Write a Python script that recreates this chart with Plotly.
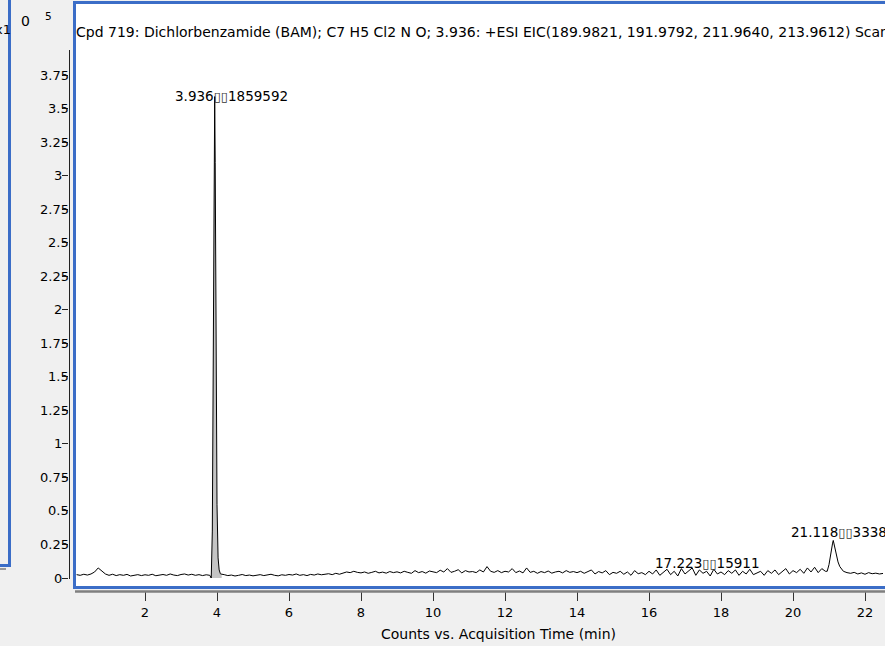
import numpy as np
import plotly.graph_objects as go

W, H = 885, 646

# ---------------- data (intensity in units of 10^5 counts) ----------------
seg_a_start = 0.1
noise_a = [0.025, 0.02, 0.028, 0.022, 0.03, 0.045, 0.075, 0.05, 0.03, 0.02,
           0.028, 0.018, 0.025, 0.02, 0.027, 0.015, 0.022, 0.025, 0.018, 0.024,
           0.02, 0.028, 0.017, 0.022, 0.026, 0.02, 0.03, 0.022, 0.018, 0.026,
           0.03, 0.022, 0.028, 0.02, 0.025, 0.018, 0.024, 0.02]
peak1_t = [3.84, 3.87, 3.90, 3.92, 3.936, 3.95, 3.97, 4.00, 4.03, 4.06, 4.09]
peak1_v = [0.0, 0.35, 1.9, 3.2, 3.59, 3.1, 1.6, 0.55, 0.15, 0.06, 0.035]
seg_b_start = 4.1
noise_b = [0.03, 0.025, 0.018, 0.022, 0.015, 0.02, 0.026, 0.018, 0.022, 0.016,
           0.02, 0.025, 0.018, 0.022, 0.028, 0.02, 0.016, 0.024, 0.02, 0.026,
           0.022, 0.03, 0.02, 0.025, 0.018, 0.027, 0.022, 0.03, 0.024, 0.028,
           0.032, 0.025, 0.035, 0.028, 0.038, 0.045, 0.04, 0.05, 0.042, 0.038,
           0.045, 0.035, 0.042, 0.05, 0.038, 0.044, 0.036, 0.048, 0.04, 0.046,
           0.038, 0.05, 0.042, 0.035, 0.055, 0.04, 0.048, 0.036, 0.052, 0.044,
           0.04, 0.058, 0.045, 0.07, 0.042, 0.05, 0.062, 0.038, 0.055, 0.045,
           0.048, 0.04, 0.06, 0.045, 0.085, 0.05, 0.042, 0.055, 0.04, 0.05,
           0.045, 0.07, 0.04, 0.052, 0.038, 0.075, 0.042, 0.05, 0.035, 0.048,
           0.04, 0.052, 0.036, 0.045, 0.05, 0.038, 0.055, 0.042, 0.048, 0.04,
           0.05, 0.035, 0.045, 0.06, 0.03, 0.048, 0.038, 0.055, 0.025, 0.042,
           0.035, 0.05, 0.028, 0.045, 0.02, 0.055, 0.032, 0.04, 0.025, 0.05,
           0.03, 0.06, 0.02, 0.045, 0.065, 0.025, 0.05, 0.015, 0.07, 0.03,
           0.055, 0.075, 0.02, 0.06, 0.035, 0.05, 0.015, 0.065, 0.03, 0.045,
           0.025, 0.055, 0.035, 0.06, 0.02, 0.05, 0.03, 0.065, 0.025, 0.04,
           0.05, 0.02, 0.055, 0.035, 0.06, 0.025, 0.045, 0.07, 0.03, 0.055,
           0.04, 0.065, 0.035, 0.075, 0.045, 0.08, 0.04, 0.07, 0.05]
peak2_t = [20.95, 21.0, 21.05, 21.1, 21.118, 21.15, 21.2, 21.25, 21.3, 21.35, 21.4, 21.5]
peak2_v = [0.05, 0.1, 0.2, 0.26, 0.28, 0.24, 0.17, 0.12, 0.085, 0.065, 0.05, 0.04]
seg_c_start = 21.6
noise_c = [0.035, 0.042, 0.03, 0.038, 0.028, 0.04, 0.032, 0.036, 0.03, 0.034]
scan_step = 0.1

y_ticks = [0, 0.25, 0.5, 0.75, 1, 1.25, 1.5, 1.75, 2, 2.25, 2.5, 2.75, 3, 3.25, 3.5, 3.75]
y_tick_labels = ["0", "0.25", "0.5", "0.75", "1", "1.25", "1.5", "1.75", "2",
                 "2.25", "2.5", "2.75", "3", "3.25", "3.5", "3.75"]
x_ticks = [2, 4, 6, 8, 10, 12, 14, 16, 18, 20, 22]
x_tick_labels = ["2", "4", "6", "8", "10", "12", "14", "16", "18", "20", "22"]

chart_title = ("Cpd 719: Dichlorbenzamide (BAM); C7 H5 Cl2 N O; 3.936: +ESI EIC(189.9821, "
               "191.9792, 211.9640, 213.9612) Scan Frag=110.0V Dichlorbenzamide.d")
x_title = "Counts vs. Acquisition Time (min)"
TOFU = "<span style='font-size:13px;color:#333'>\u25AF\u25AF</span>"
peak_labels = ["3.936" + TOFU + "1859592", "17.223" + TOFU + "15911", "21.118" + TOFU + "3338"]

# ---------------- assemble trace ----------------
def grid(start, n):
    return list(np.round(start + scan_step * np.arange(n), 3))

t_all = grid(seg_a_start, len(noise_a)) + peak1_t + grid(seg_b_start, len(noise_b)) + \
        peak2_t + grid(seg_c_start, len(noise_c))
v_all = noise_a + peak1_v + noise_b + peak2_v + noise_c

def px(x):
    return x / W

def py(y):
    return 1 - y / H

FONT = "DejaVu Sans, Liberation Sans, Arial, sans-serif"
BLUE = "#3b6dc7"

fig = go.Figure()
fig.add_trace(go.Scatter(x=[peak1_t[0] - 0.04] + peak1_t + [peak1_t[-1] + 0.04],
                         y=[0.02] + peak1_v + [0.02],
                         fill="tozeroy", fillcolor="#c4c4c4", mode="none",
                         hoverinfo="skip", showlegend=False))
fig.add_trace(go.Scatter(x=t_all, y=v_all, mode="lines",
                         line=dict(color="black", width=1), showlegend=False))

x0_px = 73.0      # pixel of t = 0
px_per_min = 36.0
y0_px = 578.0     # pixel of 0 counts
px_per_unit = 134.1

dom_l, dom_r = 69.0, 885.0
dom_t, dom_b = 50.0, 591.0

fig.update_layout(
    width=W, height=H,
    margin=dict(l=0, r=0, t=0, b=0),
    paper_bgcolor="#f0f0f0",
    plot_bgcolor="rgba(0,0,0,0)",
    font=dict(family=FONT, size=13, color="black"),
    showlegend=False,
    xaxis=dict(domain=[px(dom_l), px(dom_r)],
               range=[(dom_l - x0_px) / px_per_min, (dom_r - x0_px) / px_per_min],
               showgrid=False, zeroline=False, showline=False,
               ticks="outside", ticklen=9, tickcolor="#333", tickwidth=1,
               tickvals=x_ticks, ticktext=x_tick_labels,
               tickfont=dict(family=FONT, size=13, color="black")),
    yaxis=dict(domain=[py(dom_b), py(dom_t)],
               range=[(y0_px - dom_b) / px_per_unit, (y0_px - dom_t) / px_per_unit],
               showgrid=False, zeroline=False, showline=False,
               ticks="outside", ticklen=6, tickcolor="#222", tickwidth=1,
               tickvals=y_ticks, showticklabels=False),
)

shapes = []
# white chart area
shapes.append(dict(type="rect", xref="paper", yref="paper", layer="below",
                   x0=px(74), x1=px(890), y0=py(588), y1=py(2),
                   fillcolor="white", line=dict(width=0)))
# axis lines
shapes.append(dict(type="line", xref="paper", yref="paper",
                   x0=px(69.5), x1=px(69.5), y0=py(50), y1=py(579),
                   line=dict(color="#222", width=1)))
shapes.append(dict(type="line", xref="paper", yref="paper",
                   x0=px(75), x1=px(886), y0=py(591.5), y1=py(591.5),
                   line=dict(color="#808080", width=2.5)))
# blue highlight boxes
shapes.append(dict(type="rect", xref="paper", yref="paper",
                   x0=px(74.5), x1=px(900), y0=py(587.5), y1=py(2.5),
                   line=dict(color=BLUE, width=3)))
shapes.append(dict(type="rect", xref="paper", yref="paper",
                   x0=px(-20), x1=px(9.5), y0=py(565.5), y1=py(-20),
                   line=dict(color=BLUE, width=3)))
shapes.append(dict(type="line", xref="paper", yref="paper",
                   x0=px(0), x1=px(6), y0=py(569), y1=py(569),
                   line=dict(color="#999", width=2)))
fig.update_layout(shapes=shapes)

ann = []
for v, lab in zip(y_ticks, y_tick_labels):
    right = 64 if "." not in lab else 70.5
    ann.append(dict(text=lab, xref="paper", yref="y", x=px(right), y=v,
                    xanchor="right", yanchor="middle", showarrow=False,
                    font=dict(size=13)))
ann.append(dict(text=chart_title, xref="paper", yref="paper", x=px(74), y=py(32),
                xanchor="left", yanchor="middle", showarrow=False, font=dict(size=14)))
ann.append(dict(text=x_title, xref="paper", yref="paper", x=px(498), y=py(634),
                xanchor="center", yanchor="middle", showarrow=False, font=dict(size=14)))
ann.append(dict(text="0", xref="paper", yref="paper", x=px(25), y=py(21),
                xanchor="center", yanchor="middle", showarrow=False, font=dict(size=14)))
ann.append(dict(text="5", xref="paper", yref="paper", x=px(48), y=py(16),
                xanchor="center", yanchor="middle", showarrow=False, font=dict(size=10.5)))
ann.append(dict(text="x1", xref="paper", yref="paper", x=px(13), y=py(30),
                xanchor="right", yanchor="middle", showarrow=False, font=dict(size=13)))
# peak labels
ann.append(dict(text=peak_labels[0], xref="paper", yref="paper", x=px(173), y=py(96),
                xanchor="left", yanchor="middle", showarrow=False, font=dict(size=13.5)))
ann.append(dict(text=peak_labels[1], xref="paper", yref="paper", x=px(653), y=py(563),
                xanchor="left", yanchor="middle", showarrow=False, font=dict(size=13.5)))
ann.append(dict(text=peak_labels[2], xref="paper", yref="paper", x=px(789), y=py(532),
                xanchor="left", yanchor="middle", showarrow=False, font=dict(size=13.5)))
fig.update_layout(annotations=ann)

fig.write_html("out.html", config={"displayModeBar": False},
               post_script="document.body.style.margin='0';")
